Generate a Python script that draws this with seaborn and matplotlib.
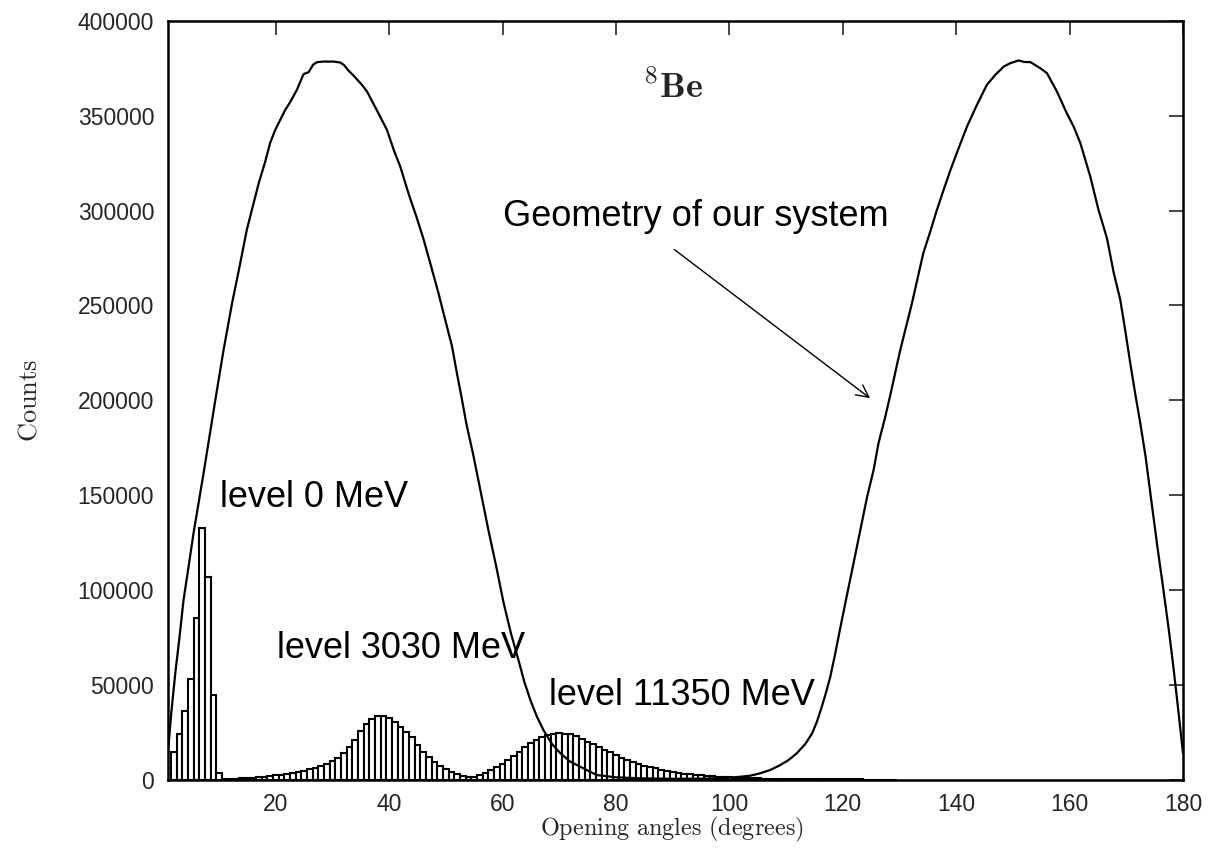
import numpy as np
import pandas as pd
import matplotlib
matplotlib.use("Agg")
import matplotlib.pyplot as plt
import seaborn as sns

# ---------------- data ----------------
# level 0 MeV histogram: bins centred on integer degrees
level0_deg = [1, 2, 3, 4, 5, 6, 7, 8, 9, 10]
level0_cnt = [5960, 14400, 24050, 36340, 53060, 85070, 132850, 107010, 44620, 3500]

# level 3030 MeV histogram
level3030_deg = list(range(11, 56))
level3030_cnt = [300, 400, 500, 700, 900, 1100, 1300, 1600, 1900, 2200,
                 2500, 3000, 3400, 4000, 4700, 5400, 6300, 7200, 8300, 9800,
                 11400, 13900, 17000, 21000, 25500, 29500, 32000, 33300, 33500, 32500,
                 30400, 27900, 25300, 22500, 18000, 14800, 11800, 9200, 7200, 5400,
                 4000, 2900, 2100, 1600, 1200]

# level 11350 MeV histogram
level11350_deg = list(range(56, 130))
level11350_cnt = [2400, 3500, 4900, 6500, 8400, 10500, 12600, 14800, 17000, 19100,
                  21000, 22500, 23500, 24100, 24400, 24300, 23800, 22800, 21500, 20000,
                  18600, 17200, 15800, 14300, 12900, 11600, 10400, 9300, 8300, 7400,
                  6600, 5900, 5200, 4600, 4100, 3600, 3200, 2800, 2500, 2200,
                  1900, 1700, 1500, 1300, 1150, 1000, 880, 770, 680, 600,
                  530, 470, 410, 360, 320, 280, 250, 220, 190, 170,
                  150, 130, 115, 100, 90, 80, 70, 60, 50, 45,
                  40, 35, 30, 25]

# geometry-of-the-system curve
geom_deg = [1, 1.57, 2.28, 3.04, 3.74, 4.63, 5.5, 6.39, 7.27, 8.45, 9.5, 10.8,
            12.3, 13.74, 14.9, 16.09, 17.0, 18.15, 19.0, 19.91, 20.8, 21.68, 22.6,
            23.73, 24.9, 25.8, 26.6, 27.3, 28.4, 30.2, 31.38, 32.0, 32.85, 33.7,
            35.2, 36.1, 38.1, 39.61, 40.8, 41.96, 43.4, 44.9, 46.1, 47.25, 48.7,
            49.89, 51.1, 51.95, 52.8, 53.6, 54.9, 56.19, 57.5, 58.89, 60.2, 61.48,
            62.8, 63.83, 64.9, 66.06, 67.2, 68.71, 70.2, 71.94, 73.7, 76.6, 80, 84,
            90, 96, 100, 101.9, 103.69, 105.4, 107.21, 109, 110.45, 111.9, 113.39,
            114.6, 115.44, 116.3, 117.09, 117.8, 118.68, 119.6, 120.74, 121.9,
            123.09, 124.3, 125.44, 126.3, 127.5, 128.4, 130.14, 132.2, 134.2,
            135.43, 136.6, 137.78, 139.0, 140.43, 141.9, 143.66, 145.4, 146.9,
            148.4, 149.54, 151.0, 152, 153.1, 154.83, 156.0, 157.77, 159.5, 160.71,
            161.9, 163.65, 165.1, 166.59, 167.8, 168.94, 169.8, 170.7, 171.6,
            172.47, 173.4, 175.4, 176.47, 177.5, 178.23, 178.9, 180]
geom_cnt = [14700, 34950, 56000, 75380, 94700, 112300, 129900, 145700, 161500,
            183500, 203000, 226570, 251200, 272290, 289900, 303930, 314500, 325880,
            335600, 342600, 347900, 353150, 357500, 363700, 372000, 373000, 377000,
            378300, 378600, 378600, 378100, 376900, 373800, 371300, 366330, 362800,
            351400, 342600, 332100, 323260, 309200, 296010, 284600, 272280, 256500,
            242390, 228300, 214270, 201100, 187890, 170300, 150980, 131600, 112300,
            93000, 77140, 63100, 51650, 42000, 33190, 26200, 18780, 13900, 9460,
            6800, 2400, 1200, 700, 400, 500, 1000, 1500, 2075, 3300, 5060, 7700,
            10340, 13900, 18780, 24400, 30550, 38400, 46380, 54300, 66590, 80600,
            97360, 114100, 131640, 149200, 163280, 177400, 191410, 203000, 226570,
            251200, 277600, 288980, 300400, 310960, 321500, 332930, 344300, 355780,
            366300, 371610, 376000, 377760, 379200, 378400, 378300, 375120, 372500,
            362810, 351400, 344360, 335600, 317990, 300400, 285470, 267000, 252940,
            237100, 219540, 203000, 187900, 170300, 124600, 101750, 78900, 61320,
            43700, 14000]

x_ticks = [20, 40, 60, 80, 100, 120, 140, 160, 180]
y_ticks = [0, 50000, 100000, 150000, 200000, 250000, 300000, 350000, 400000]

# ---------------- style ----------------
sns.set_style("white")
plt.rcParams["font.family"] = ["Liberation Sans", "DejaVu Sans"]
plt.rcParams["mathtext.fontset"] = "cm"

fig = plt.figure(figsize=(12.12, 8.5), dpi=100)
ax = fig.add_axes([168 / 1212, 1 - 779.6 / 850, (1183 - 168) / 1212, (779.6 - 21) / 850])

bar_kw = dict(color="white", edgecolor="black", linewidth=1.5, alpha=1, zorder=2)
for degs, cnts in [(level0_deg, level0_cnt), (level3030_deg, level3030_cnt),
                   (level11350_deg, level11350_cnt)]:
    df = pd.DataFrame({"deg": degs, "cnt": cnts})
    sns.histplot(data=df, x="deg", weights="cnt", binwidth=1,
                 binrange=(min(degs) - 0.5, max(degs) + 0.5), ax=ax, **bar_kw)

gdf = pd.DataFrame({"deg": geom_deg, "cnt": geom_cnt})
sns.lineplot(data=gdf, x="deg", y="cnt", ax=ax, color="black", linewidth=1.6,
             zorder=3, estimator=None, sort=False)

ax.set_xlim(1, 180)
ax.set_ylim(0, 400000)
ax.set_xticks(x_ticks)
ax.set_yticks(y_ticks)
ax.tick_params(direction="in", length=10, width=1.2, top=True, right=True,
               labelsize=16.5, pad=10)
for s in ax.spines.values():
    s.set_linewidth(1.8)
    s.set_color("black")

ax.set_xlabel(r"$\mathrm{Opening\ angles\ (degrees)}$", fontsize=17.5)
ax.set_ylabel(r"$\mathrm{Counts}$", fontsize=19)
ax.xaxis.set_label_coords(0.496, -0.046)
ax.yaxis.set_label_coords(-0.125, 0.5)

txt = dict(fontsize=26, color="black", zorder=5)
ax.text(10.2, 143900, "level 0 MeV", ha="left", va="baseline", **txt)
ax.text(20.2, 64000, "level 3030 MeV", ha="left", va="baseline", **txt)
ax.text(68.2, 39300, "level 11350 MeV", ha="left", va="baseline", **txt)
ax.text(60.1, 292000, "Geometry of our system", ha="left", va="baseline", **txt)
ax.text(90, 364700, r"$^{8}\mathbf{Be}$", ha="center", va="center", fontsize=26)

ax.annotate("", xy=(125.2, 200200), xytext=(89.9, 280400),
            arrowprops=dict(arrowstyle="->", color="black", lw=1.0,
                            mutation_scale=22))

fig.savefig("out.png", dpi=100)
